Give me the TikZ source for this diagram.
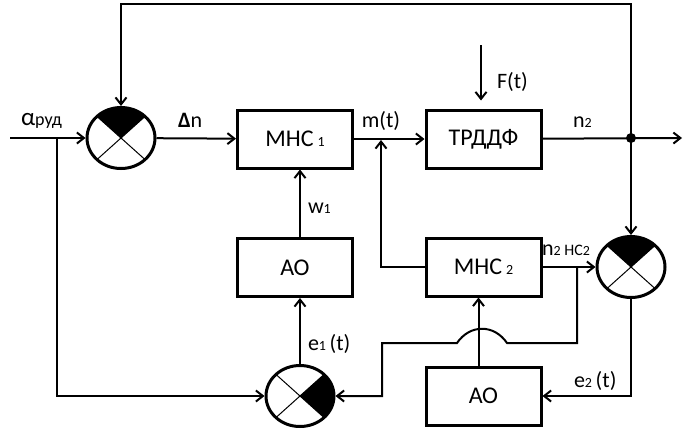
\documentclass[tikz,border=0pt]{standalone}
\usepackage{fontspec}
\setmainfont{Carlito}
\usetikzlibrary{arrows.meta,shapes.geometric,calc}
\newcommand{\smalldig}[1]{{\fontsize{14}{14}\selectfont #1}}
\begin{document}
\begin{tikzpicture}[x=1pt,y=-1pt, line width=2pt, >={Straight Barb[length=7pt,width=11pt]},
    every node/.style={font=\fontsize{22}{24}\selectfont, inner sep=0pt},
    block/.style={draw, line width=3pt, minimum width=115pt, minimum height=58pt, font=\fontsize{24}{26}\selectfont},
    summer/.style={ellipse, draw, line width=3pt, minimum width=68pt, minimum height=61pt,
        path picture={
            \fill (path picture bounding box.center) -- ++(#1-45:34 and 30.5)
                arc[start angle=#1-45, end angle=#1+45, x radius=34, y radius=30.5] -- cycle;
            \draw[line width=1pt] (path picture bounding box.center) +(45:34 and 30.5) -- +(225:34 and 30.5)
                (path picture bounding box.center) +(135:34 and 30.5) -- +(315:34 and 30.5);}}]
    \useasboundingbox (0,0) rectangle (696,440);
    % blocks and summers
    \node[summer=270] (s1) at (121,138) {};
    \node[block] (mhc1) at (295,139) {МНС\,\smalldig{1}};
    \node[block] (trd) at (483.5,139) {ТРДДФ};
    \node[block] (ao1) at (295,267.5) {АО};
    \node[block] (mhc2) at (483.5,267) {МНС\,\smalldig{2}};
    \node[summer=270] (s2) at (631,267) {};
    \node[summer=0] (s3) at (300,396) {};
    \node[block] (ao2) at (483.5,396) {АО};
    % points on the lines
    \coordinate (in) at (10,138);
    \coordinate (br) at (57,138);
    \coordinate (out) at (682,138);
    \coordinate (dot) at (631,138);
    \coordinate (tr) at (631,4);
    \coordinate (tl) at (121,4);
    \coordinate (mt) at (381,138);
    \coordinate (ft) at (481,45);
    \coordinate (nj) at (577,267);
    \coordinate (c1) at (577,343);
    \coordinate (b2) at (507,343);
    \coordinate (b1) at (457,343);
    \coordinate (c2) at (382,343);
    % main path
    \draw[->] (in) -- (s1);
    \draw[->] (s1) -- (mhc1);
    \draw[->] (mhc1) -- (trd);
    \draw[->] (trd) -- (out);
    \draw[->] (dot) -- (tr) -- (tl) -- (s1);
    \draw[->] (dot) -- (s2);
    \draw[->, shorten >=8pt] (ft) -- (trd.north -| ft);
    % lower loops
    \draw[->, shorten >=2pt] (mhc2.west) -| (mt);
    \draw[->] (mhc2) -- (s2);
    \draw[->] (nj) -- (c1) -- (b2) .. controls (494,324) and (470,324) .. (b1) -- (c2) |- (s3.east);
    \draw[->] (s2) |- (ao2);
    \draw[->] ([xshift=-5pt]ao2.north) -- ([xshift=-5pt]mhc2.south);
    \draw[->] (br) |- (s3);
    \draw[->] (s3.north) -- (s3.north |- ao1.south);
    \draw[->] (ao1.north -| s3.north) -- (mhc1.south -| s3.north);
    \fill (dot) circle[radius=5];
    % labels
    \node[anchor=base west] (lalpha) at (20,125) {{\fontsize{25}{25}\selectfont α}{\fontsize{18}{18}\selectfont руд}};
    \node[anchor=base west] (ldn) at (177,127) {{\bfseries Δ}n};
    \node[anchor=base] (lm) at (381,127) {m(t)};
    \node[anchor=base west] (ln2) at (572,127) {n\smalldig{2}};
    \node[anchor=base west] (lf) at (496,88) {F(t)};
    \node[anchor=base west] (lnhc) at (541,255) {n\smalldig{2}\,{\fontsize{16}{16}\selectfont HC}\smalldig{2}};
    \node[anchor=base west] (lw) at (307,213) {w\smalldig{1}};
    \node[anchor=base west] (le1) at (307,350) {e\smalldig{1}\,(t)};
    \node[anchor=base west] (le2) at (573,387) {e\smalldig{2}\,(t)};
\end{tikzpicture}
\end{document}
